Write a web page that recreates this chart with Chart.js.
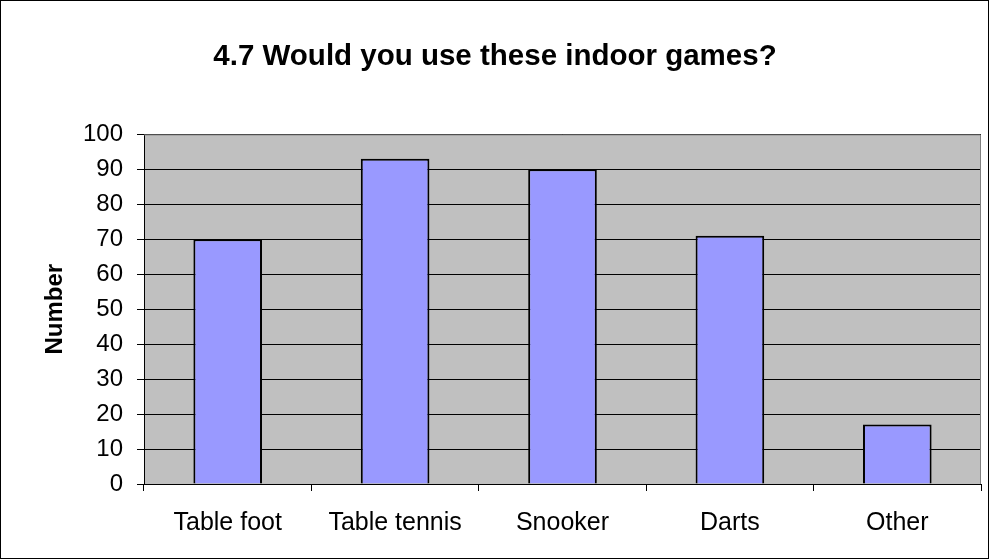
<!DOCTYPE html>
<html>
<head>
<meta charset="utf-8">
<script src="https://cdn.jsdelivr.net/npm/chart.js@4"></script>
<style>
  html, body { margin: 0; padding: 0; background: #fff; }
  #wrap { width: 990px; height: 560px; }
</style>
</head>
<body>
<div id="wrap"><canvas id="games-chart" width="990" height="560"></canvas></div>
<script>
// data
const categories = ['Table foot', 'Table tennis', 'Snooker', 'Darts', 'Other'];
const counts = [70, 93, 90, 71, 17];
const yTicks = [0, 10, 20, 30, 40, 50, 60, 70, 80, 90, 100];

const FONT = '"Liberation Sans", Arial, sans-serif';

// grey plot background + outer frame
const frame = {
    id: 'frame',
    beforeDraw(chart) {
        const { ctx, chartArea: a } = chart;
        ctx.save();
        ctx.fillStyle = '#C0C0C0';
        ctx.fillRect(a.left, a.top, a.right - a.left, a.bottom - a.top);
        ctx.restore();
    },
    afterDraw(chart) {
        const { ctx, chartArea: a } = chart;
        ctx.save();
        ctx.strokeStyle = '#808080';
        ctx.lineWidth = 1;
        ctx.beginPath();
        ctx.moveTo(a.left, a.top + 0.5);
        ctx.lineTo(a.right - 0.5, a.top + 0.5);
        ctx.lineTo(a.right - 0.5, a.bottom);
        ctx.stroke();
        ctx.strokeStyle = '#000';
        ctx.strokeRect(0.5, 0.5, chart.width - 2, chart.height - 2);
        ctx.restore();
    }
};

const ctx = document.getElementById('games-chart').getContext('2d');
new Chart(ctx, {
    type: 'bar',
    data: {
        labels: categories,
        datasets: [{
            data: counts,
            backgroundColor: '#9999FF',
            borderColor: '#000',
            borderWidth: 2,
            barPercentage: 0.41,
            categoryPercentage: 1
        }]
    },
    options: {
        responsive: false,
        animation: false,
        layout: { padding: { left: 9, right: 9, top: 0, bottom: 0 } },
        plugins: {
            legend: { display: false },
            tooltip: { enabled: false },
            title: {
                display: true,
                text: '4.7 Would you use these indoor games?',
                color: '#000',
                font: { family: FONT, size: 29.5, weight: 'bold' },
                padding: { top: 39, bottom: 60 }
            }
        },
        scales: {
            x: {
                offset: true,
                grid: { offset: true, display: true, drawOnChartArea: false, color: '#000', tickLength: 7 },
                border: { color: '#000', width: 1 },
                ticks: { color: '#000', font: { family: FONT, size: 25 }, padding: 17, maxRotation: 0 },
                afterFit(s) { s.height = 76; }
            },
            y: {
                min: 0,
                max: 100,
                afterBuildTicks(s) { s.ticks = yTicks.map(v => ({ value: v })); },
                grid: { color: '#000', tickLength: 7 },
                border: { color: '#000', width: 1 },
                ticks: { color: '#000', font: { family: FONT, size: 24 }, padding: 14 },
                title: {
                    display: true,
                    text: 'Number',
                    color: '#000',
                    font: { family: FONT, size: 24, weight: 'bold' },
                    padding: { top: 32, bottom: 0 }
                },
                afterFit(s) { s.width = 135; }
            }
        }
    },
    plugins: [frame]
});
</script>
</body>
</html>
